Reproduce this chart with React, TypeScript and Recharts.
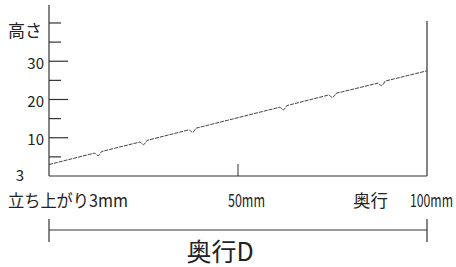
import { LineChart, Line, XAxis, YAxis, ReferenceLine } from "recharts";

// depth (mm) along the floor and height of the slope, incl. the small notches
const depthMm = [0, 12.1, 12.6, 13, 13.4, 13.9, 24.1, 24.6, 25, 25.4, 25.9, 37.1, 37.6, 38, 38.4, 38.9, 61.1, 61.6, 62, 62.4, 62.9, 74.1, 74.6, 75, 75.4, 75.9, 87.1, 87.6, 88, 88.4, 88.9, 100];
const heightMm = [3.0, 6.0, 5.5, 5.3, 5.6, 6.4, 8.9, 8.4, 8.2, 8.5, 9.3, 12.1, 11.6, 11.4, 11.7, 12.5, 18.0, 17.5, 17.3, 17.6, 18.4, 21.2, 20.7, 20.5, 20.8, 21.6, 24.3, 23.8, 23.6, 23.9, 24.8, 27.5];

const yTicks = [0, 5, 10, 15, 20, 25, 30, 35, 40];
const yTickLabels = ["3", "", "10", "", "20", "", "30", "", "高さ"];

const xTicks = [0, 50, 100];
const xTickLabels = ["立ち上がり3mm", "50mm", "100mm"];
const depthLabel = "奥行";
const dimLabel = "奥行D";

const data = depthMm.map((d, i) => ({ d, h: heightMm[i] }));

const font = "'Noto Sans CJK JP', 'Noto Sans', sans-serif";
const ink = "#222";

const YTick = (props: any) => {
  const { x, y, payload } = props;
  const i = yTicks.indexOf(payload.value);
  const label = yTickLabels[i];
  const v = payload.value;
  const isNum = label !== "" && v > 0 && v < 40;
  const len = v === 0 ? 0 : isNum ? 19 : 12;
  return (
    <g>
      {len > 0 && <line x1={x} x2={x + len} y1={y} y2={y} stroke="#333" strokeWidth={1.2} />}
      {isNum && (
        <text x={x - 5} y={y} dy={1} textAnchor="end" dominantBaseline="central" fontSize={15} fill={ink} fontFamily={font}>
          {label}
        </text>
      )}
      {v === 0 && (
        <text x={x - 29} y={y} dy={-2} textAnchor="middle" dominantBaseline="central" fontSize={15} fill={ink} fontFamily={font}>
          {label}
        </text>
      )}
      {v === 40 && (
        <text x={x - 7} y={y} dy={7} textAnchor="end" dominantBaseline="central" fontSize={17} fill={ink} fontFamily={font}>
          {label}
        </text>
      )}
    </g>
  );
};

const XTick = (props: any) => {
  const { x, y, payload } = props;
  const i = xTicks.indexOf(payload.value);
  const label = xTickLabels[i];
  const ty = y + 23;
  const common = { y: ty, dominantBaseline: "central", fontSize: 18, fill: ink, fontFamily: font, lengthAdjust: "spacingAndGlyphs" } as any;
  return (
    <g>
      {i === 1 && <line x1={x} x2={x} y1={y - 12} y2={y} stroke="#333" strokeWidth={1} />}
      {i === 0 && (
        <text {...common} x={x - 41} fontSize={17} textLength={120}>
          {label}
        </text>
      )}
      {i === 1 && (
        <text {...common} x={x - 10} textLength={37}>
          {label}
        </text>
      )}
      {i === 2 && (
        <g>
          <text {...common} x={x - 74} fontSize={17} textLength={35}>
            {depthLabel}
          </text>
          <text {...common} x={x - 17} textLength={43}>
            {label}
          </text>
        </g>
      )}
    </g>
  );
};

// dimension line under the axis, spanning the whole depth
const DimLine = (props: any) => {
  const { x, y, width } = props.viewBox;
  const ly = y + 54;
  return (
    <g>
      <line x1={x} x2={x + width} y1={ly} y2={ly} stroke="#333" strokeWidth={1.2} />
      <line x1={x} x2={x} y1={ly - 11} y2={ly + 12} stroke="#333" strokeWidth={1.2} />
      <line x1={x + width} x2={x + width} y1={ly - 11} y2={ly + 12} stroke="#333" strokeWidth={1.2} />
      <text x={x + width / 2 - 18} y={ly + 20} textAnchor="middle" dominantBaseline="central" fontSize={25} fill={ink} fontFamily={font}>
        {dimLabel}
      </text>
    </g>
  );
};

export default function App() {
  return (
    <div style={{ position: "absolute", left: 0, top: 0, background: "#fff" }}>
      <LineChart width={456} height={267} data={data} margin={{ top: 5, right: 29, bottom: 0, left: 0 }}>
        <XAxis
          dataKey="d"
          type="number"
          domain={[0, 100]}
          ticks={xTicks}
          tickSize={0}
          tickMargin={0}
          tickLine={false}
          axisLine={{ stroke: "#333", strokeWidth: 1.2 }}
          tick={<XTick />}
          interval={0}
          height={91}
          label={{ content: <DimLine /> }}
        />
        <YAxis
          type="number"
          domain={[0, 44.7]}
          ticks={yTicks}
          width={49}
          tickSize={0}
          tickMargin={0}
          tickLine={false}
          axisLine={{ stroke: "#333", strokeWidth: 1.2 }}
          tick={<YTick />}
          interval={0}
        />
        <ReferenceLine
          segment={[
            { x: 100, y: 0 },
            { x: 100, y: 40.5 },
          ]}
          stroke="#333"
          strokeWidth={1.2}
          ifOverflow="visible"
        />
        <Line
          dataKey="h"
          type="linear"
          stroke="#444"
          strokeWidth={1}
          strokeDasharray="4 1"
          dot={false}
          isAnimationActive={false}
        />
      </LineChart>
    </div>
  );
}
